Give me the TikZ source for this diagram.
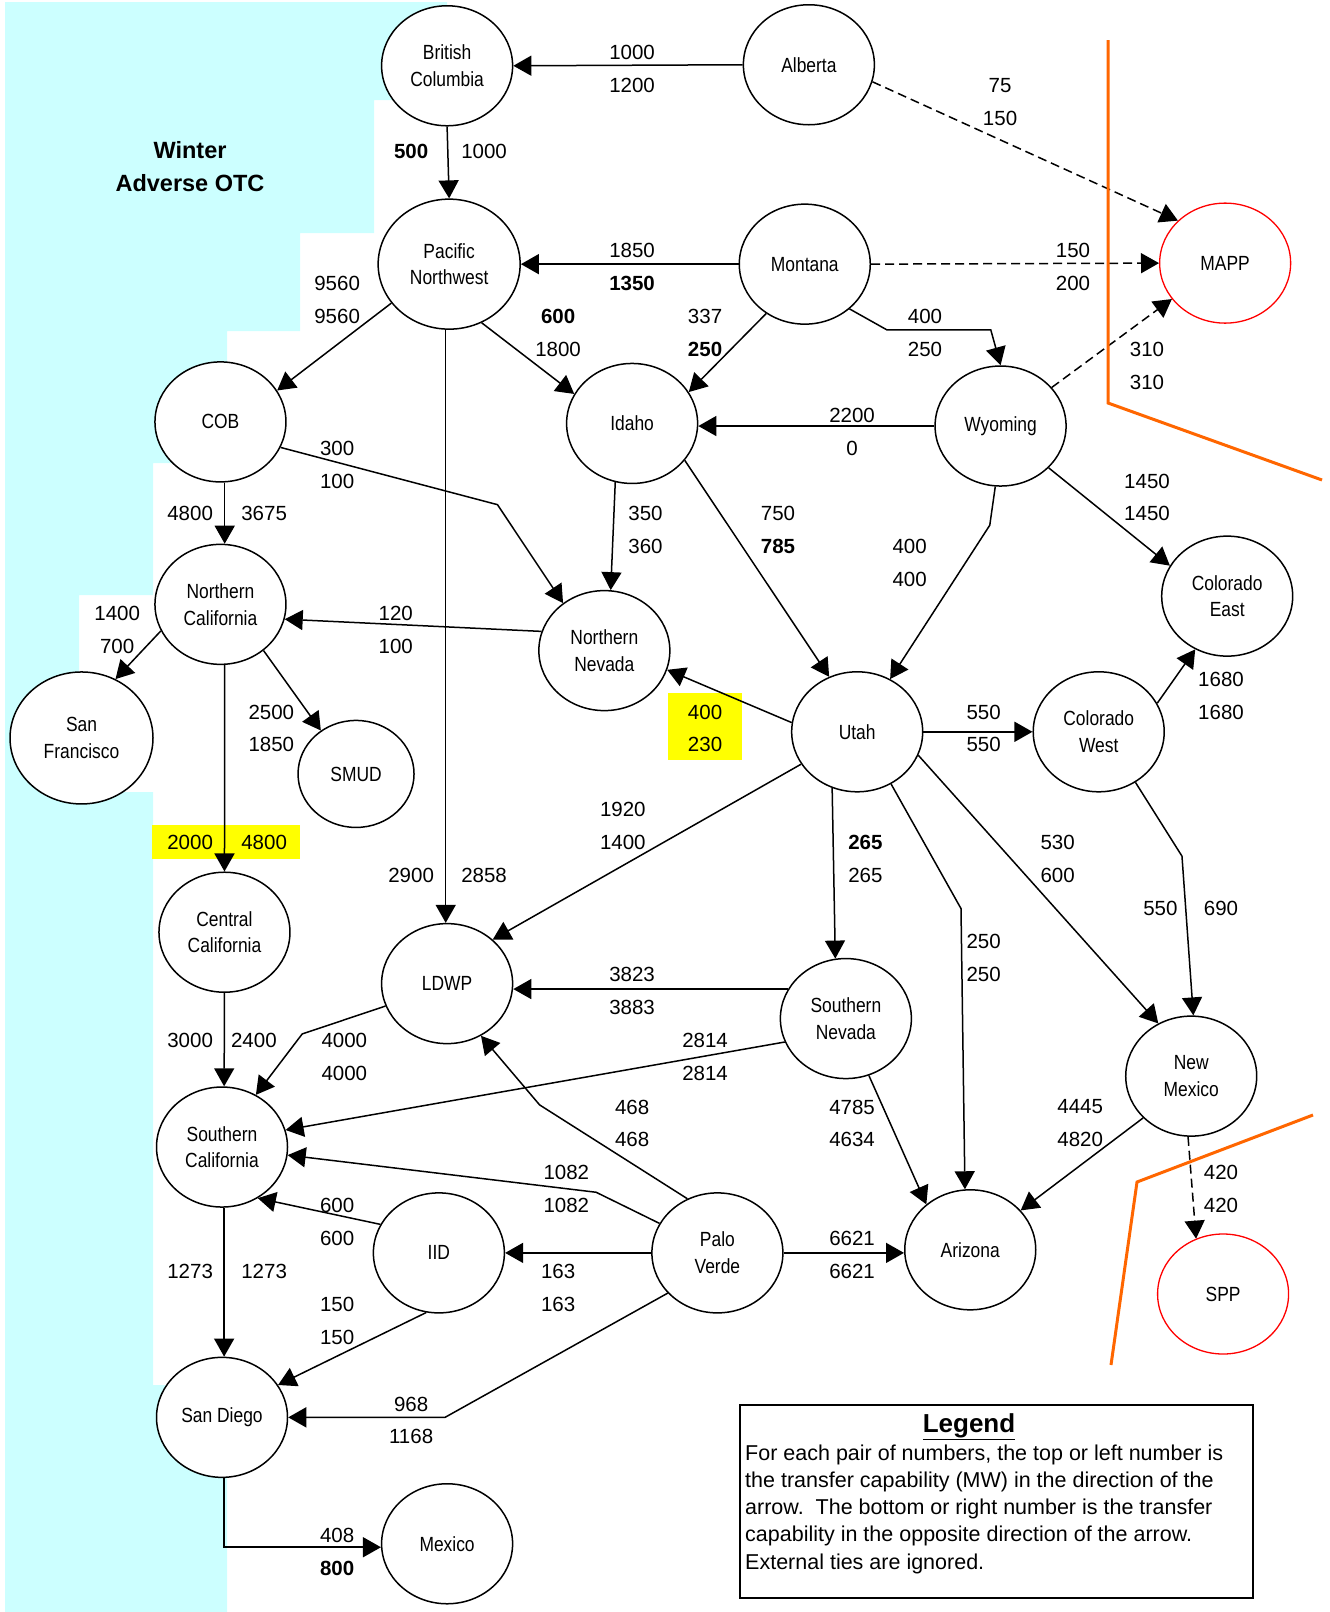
\documentclass[tikz,border=0pt]{standalone}
\usepackage{fontspec}
\setmainfont{Liberation Sans}
\newfontfamily\narrowsans{Liberation Sans}[FakeStretch=0.85]
\usetikzlibrary{shapes.geometric, arrows.meta}
\definecolor{seacyan}{HTML}{CCFFFF}
\definecolor{tieorange}{HTML}{FF6600}
\definecolor{hiyellow}{HTML}{FFFF00}
\definecolor{extred}{HTML}{FF0000}
\tikzset{
  region/.style={ellipse, draw, line width=1.5pt, fill=white, minimum width=131pt, minimum height=120pt,
    inner sep=0pt, align=center, font=\narrowsans\fontsize{20.5}{26.7}\selectfont},
  extregion/.style={region, draw=extred, line width=1.3pt},
  tie/.style={line width=1.5pt, -{Triangle[length=18pt,width=20pt]}},
  exttie/.style={tie, dash pattern=on 9pt off 5pt},
  num/.style={inner sep=0pt, font=\fontsize{20.5}{24}\selectfont},
  bnum/.style={inner sep=0pt, font=\bfseries\fontsize{20.5}{24}\selectfont},
  border/.style={tieorange, line width=3pt},
}
\begin{document}
\begin{tikzpicture}[x=1.0278pt, y=-1.0278pt]
% full-pixel scope: background, title
\begin{scope}[x=1pt, y=-1pt]
  \useasboundingbox (0,0) rectangle (1330,1612);
  \fill[seacyan] (5,2) -- (447,2) -- (447,100) -- (374,100) -- (374,233) -- (300,233) -- (300,331)
    -- (227,331) -- (227,463) -- (153,463) -- (153,595) -- (79,595) -- (79,792) -- (153,792)
    -- (153,1385) -- (227,1385) -- (227,1612) -- (5,1612) -- cycle;
  \node[align=center, inner sep=0pt, font=\bfseries\fontsize{23.5}{33}\selectfont] (title) at (190,166.5) {Winter\\Adverse OTC};
\end{scope}

\fill[hiyellow] (650,674) rectangle (722,739);
\fill[hiyellow] (148,803) rectangle (292,836);

% regions
\node[region] (bc) at (435,64) {British\\Columbia};
\node[region] (alberta) at (787,63) {Alberta};
\node[region, minimum width=142pt, minimum height=130pt] (pnw) at (437,257) {Pacific\\Northwest};
\node[region] (montana) at (783,257) {Montana};
\node[extregion] (mapp) at (1192,256) {MAPP};
\node[region] (cob) at (214.5,410.5) {COB};
\node[region] (idaho) at (615,412) {Idaho};
\node[region] (wyoming) at (973.5,414.5) {Wyoming};
\node[region] (coloe) at (1194,580) {Colorado\\East};
\node[region] (norcal) at (214.5,588) {Northern\\California};
\node[region] (nornev) at (588,633) {Northern\\Nevada};
\node[region, minimum width=143pt, minimum height=132pt] (sanfran) at (79.3,718) {San\\Francisco};
\node[region, minimum width=116pt, minimum height=107pt] (smud) at (346.4,753) {SMUD};
\node[region] (utah) at (834,712) {Utah};
\node[region] (colow) at (1069,712) {Colorado\\West};
\node[region] (cencal) at (218.4,907) {Central\\California};
\node[region] (ldwp) at (435,957) {LDWP};
\node[region] (sonev) at (823,991) {Southern\\Nevada};
\node[region] (newmex) at (1159,1047) {New\\Mexico};
\node[region] (socal) at (216,1116) {Southern\\California};
\node[region] (iid) at (427,1219) {IID};
\node[region] (palo) at (698,1219) {Palo\\Verde};
\node[region] (arizona) at (944,1216) {Arizona};
\node[extregion] (spp) at (1190,1259) {SPP};
\node[region] (sandiego) at (216,1379) {San Diego};
\node[region] (mexico) at (435,1502) {Mexico};

% ties
\draw[tie] (alberta.west) -- (bc.east);
\draw[exttie] (alberta.-15.3) -- (mapp.138);
\draw[tie] (bc.south) -- (pnw.north);
\draw[tie] (montana.west) -- (pnw.east);
\draw[exttie] (montana.east) -- (mapp.west);
\draw[exttie] (wyoming.37.6) -- (mapp.214);
\draw[tie] (pnw.214) -- (cob.29.7);
\draw[tie] (pnw.-61.8) -- (idaho.153);
\draw[tie] (pnw.-93.6) -- (pnw.-93.6 |- ldwp.north);
\draw[tie] (montana.232) -- (idaho.29);
\draw[tie] (montana.-45.6) -- (863,321) -- (964,321) -- (wyoming.north);
\draw[tie] (wyoming.west) -- (wyoming.west -| idaho.east);
\draw[tie] (wyoming.-95) -- (963,511) -- (utah.58);
\draw[tie] (wyoming.-41) -- (coloe.152);
\draw[tie] (cob.-23.8) -- (484,491) -- (nornev.131.6);
\draw[tie] (cob.-86.6) -- (norcal.86.6);
\draw[tie] (idaho.254) -- (nornev.84);
\draw[tie] (idaho.-35.4) -- (utah.117);
\draw[tie] (nornev.163.8) -- (norcal.-13.6);
\draw[tie] (utah.172.5) -- (nornev.-17);
\draw[tie] (norcal.204.5) -- (sanfran.60.4);
\draw[tie] (norcal.-47.6) -- (smud.129.8);
\draw[tie] (norcal.-86.6) -- (cencal.north);
\draw[tie] (utah.east) -- (colow.west);
\draw[tie] (colow.26.6) -- (coloe.239);
\draw[tie] (colow.-54.8) -- (1150,833) -- (newmex.88);
\draw[tie] (utah.210) -- (ldwp.44.3);
\draw[tie] (utah.246.5) -- (sonev.100.6);
\draw[tie] (utah.-57) -- (935,884) -- (arizona.95.7);
\draw[tie] (utah.-21.6) -- (newmex.122.6);
\draw[tie] (cencal.south) -- (socal.88);
\draw[tie] (ldwp.200) -- (294,1006) -- (socal.57.3);
\draw[tie] (sonev.153.8) -- (sonev.153.8 -| ldwp.east);
\draw[tie] (sonev.201.6) -- (socal.15.7);
\draw[tie] (sonev.-68.6) -- (arizona.134.3);
\draw[tie] (newmex.221.7) -- (arizona.38);
\draw[exttie] (newmex.267) -- (spp.116.6);
\draw[tie] (palo.119.5) -- (525,1075) -- (ldwp.-57.3);
\draw[tie] (palo.153.4) -- (580,1160) -- (socal.-7.9);
\draw[tie] (palo.west) -- (iid.east);
\draw[tie] (palo.east) -- (palo.east -| arizona.west);
\draw[tie] (palo.219) -- (433,1379) -- (sandiego.east);
\draw[tie] (iid.154.2) -- (socal.-55.2);
\draw[tie] (iid.258) -- (sandiego.30.2);
\draw[tie] (socal.-88) -- (sandiego.88);
\draw[tie] (sandiego.-88) |- (mexico.183);

% tie ratings
\foreach \x/\y/\t [count=\i] in {
  615/50/1000, 615/82/1200, 973/82/75, 973/114/150, 471/146/1000,
  615/243/1850, 1044/243/150, 1044/275/200, 328/275/9560, 328/307/9560,
  543/339/1800, 686/307/337, 900/307/400, 900/339/250, 1116/339/310, 1116/371/310,
  829/403/2200, 829/435/0, 328/435/300, 328/467/100, 1116/467/1450, 1116/499/1450,
  185/499/4800, 257/499/3675, 628/499/350, 628/531/360, 757/499/750,
  885/531/400, 885/563/400, 385/596/120, 385/628/100, 114/596/1400, 114/628/700,
  1188/660/1680, 1188/692/1680, 686/692/400, 686/723/230, 957/692/550, 957/723/550,
  264/692/2500, 264/723/1850, 606/787/1920, 606/819/1400, 185/819/2000, 257/819/4800,
  842/851/265, 1029/819/530, 1029/851/600, 400/851/2900, 471/851/2858,
  1129/883/550, 1188/883/690, 957/915/250, 957/947/250, 615/947/3823, 615/979/3883,
  185/1011/3000, 247/1011/2400, 335/1011/4000, 335/1043/4000, 686/1011/2814, 686/1043/2814,
  615/1076/468, 615/1108/468, 829/1076/4785, 829/1108/4634, 1051/1076/4445, 1051/1108/4820,
  551/1140/1082, 551/1172/1082, 1188/1140/420, 1188/1172/420, 328/1172/600, 328/1204/600,
  829/1204/6621, 829/1236/6621, 185/1236/1273, 257/1236/1273, 543/1236/163, 543/1268/163,
  328/1268/150, 328/1300/150, 400/1365/968, 400/1397/1168, 328/1493/408}
  \node[num] (lab\i) at (\x,\y+1) {\t};
\foreach \x/\y/\t [count=\i] in {
  400/146/500, 615/275/1350, 543/307/600, 686/339/250, 757/531/785, 842/819/265, 328/1525/800}
  \node[bnum] (blab\i) at (\x,\y+1) {\t};

\begin{scope}[x=1pt, y=-1pt]
  \draw[border] (1108,40) -- (1108,403) -- (1322,480);
  \draw[border] (1313,1115) -- (1137,1182) -- (1111,1365);
  \draw[line width=2pt] (740,1405) rectangle (1253,1598);
  \node[anchor=base, inner sep=0pt, font=\bfseries\fontsize{26}{30}\selectfont] (legtitle) at (969,1432) {\underline{Legend}};
  \node[anchor=north west, align=left, inner sep=0pt, font=\fontsize{21.5}{27.2}\selectfont] (legtext) at (745,1444.5)
    {For each pair of numbers, the top or left number is\\
     the transfer capability (MW) in the direction of the\\
     arrow.\ \ The bottom or right number is the transfer\\
     capability in the opposite direction of the arrow.\\
     External ties are ignored.};
\end{scope}
\end{tikzpicture}
\end{document}
